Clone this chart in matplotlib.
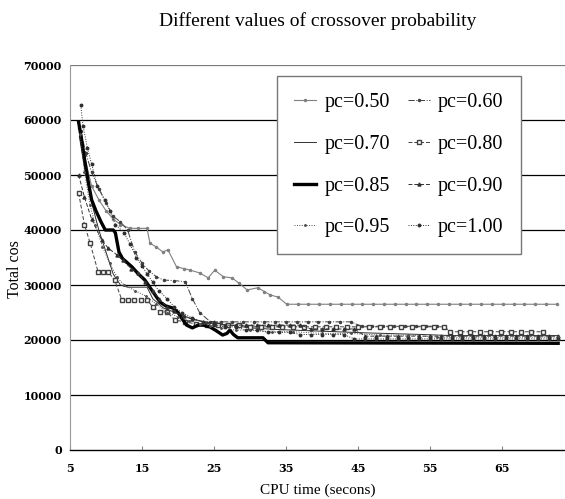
import matplotlib
matplotlib.use("Agg")
import matplotlib.pyplot as plt

# -----------------------------
# data (cpu time, total cost)
# -----------------------------
pc050 = [(6.3, 58500), (7.0, 53500), (8.0, 48000), (9.0, 45500), (10.0, 43500), (11.0, 42000),
         (12.0, 41000), (13.3, 40300), (14.5, 40300), (15.7, 40300), (16.1, 37600), (17.0, 36900),
         (17.9, 36000), (18.6, 36400), (19.8, 33300), (20.8, 33000), (21.7, 32700), (23.0, 32200),
         (24.2, 31300), (25.1, 32700), (26.3, 31500), (27.5, 31300), (28.5, 30300), (29.6, 29100),
         (31.1, 29500), (32.0, 28800), (32.8, 28200), (33.9, 27800), (35.1, 26500), (36.6, 26500),
         (38.1, 26500), (39.6, 26500), (41.1, 26500), (42.6, 26500), (44.1, 26500), (45.6, 26500),
         (47.1, 26500), (48.6, 26500), (50.1, 26500), (51.6, 26500), (53.1, 26500), (54.6, 26500),
         (56.1, 26500), (57.6, 26500), (59.1, 26500), (60.6, 26500), (62.1, 26500), (63.6, 26500),
         (65.1, 26500), (66.6, 26500), (68.1, 26500), (69.6, 26500), (71.1, 26500), (72.6, 26500)]

pc060 = [(6.5, 58000), (7.2, 54000), (8.0, 50500), (9.0, 47500), (10.0, 45000), (11.0, 42500),
         (12.0, 41500), (13.0, 40000), (14.0, 36000), (15.0, 34000), (16.0, 32500), (17.0, 31500),
         (18.0, 30900), (19.5, 30800), (21.0, 30600), (22.0, 27500), (23.0, 25000), (24.5, 23300),
         (26.0, 23300), (27.5, 23300), (29.0, 23300), (30.5, 23300), (32.0, 23300), (33.5, 23300),
         (35.0, 23300), (36.5, 23300), (38.0, 23300), (39.5, 23300), (41.0, 23300), (42.5, 23300),
         (44.0, 23300), (45.5, 22500), (47.0, 22500), (48.5, 22500), (50.0, 22500), (51.5, 22500),
         (53.0, 22500), (54.5, 22500), (56.0, 22500)]

pc070 = [(6.3, 57000), (7.0, 51500), (8.0, 45000), (9.0, 40000), (10.0, 36000), (11.0, 32000),
         (12.0, 30000), (13.0, 29600), (15.7, 29600), (16.5, 27500), (18.0, 25800), (20.0, 24800),
         (22.0, 23800), (24.0, 23200), (26.0, 22800), (28.0, 22600), (30.0, 22200), (34.0, 21900),
         (40.0, 21600), (46.0, 21300), (54.0, 21000), (58.0, 20800), (72.8, 20800)]

pc080 = [(6.2, 46700), (7.0, 41000), (7.8, 37600), (8.9, 32400), (9.6, 32400), (10.3, 32400),
         (11.2, 30900), (12.2, 27300), (13.0, 27300), (13.9, 27300), (14.8, 27300), (15.7, 27300),
         (16.5, 26000), (17.5, 25100), (18.5, 25100), (19.6, 23600), (21.0, 23300), (22.5, 22900),
         (24.0, 22700), (25.5, 22700), (27.0, 22700), (28.5, 22700), (30.0, 22400), (31.5, 22400),
         (33.0, 22400), (34.5, 22400), (36.0, 22400), (37.5, 22400), (39.0, 22400), (40.5, 22400),
         (42.0, 22400), (43.5, 22400), (45.0, 22400), (46.5, 22400), (48.0, 22400), (49.5, 22400),
         (51.0, 22400), (52.5, 22400), (54.0, 22400), (55.5, 22400), (57.0, 22400), (57.8, 21500),
         (59.2, 21500), (60.6, 21500), (62.0, 21500), (63.4, 21500), (64.8, 21500), (66.2, 21500),
         (67.6, 21500), (69.0, 21500), (70.7, 21500)]

pc085 = [(6.2, 59600), (6.6, 56500), (7.0, 53000), (7.5, 49000), (8.0, 45500), (8.6, 43500),
         (9.3, 41500), (9.9, 40000), (11.0, 40000), (11.3, 39500), (11.8, 36000), (12.3, 34800),
         (13.0, 34000), (13.6, 33300), (14.5, 32000), (15.4, 30900), (16.5, 28800), (17.5, 26900),
         (18.3, 26200), (19.3, 25800), (20.0, 25000), (20.5, 24000), (21.2, 22700), (22.0, 22200),
         (22.8, 22700), (23.5, 22700), (24.4, 22400), (25.3, 21700), (26.2, 20900), (26.8, 21200),
         (27.2, 21800), (27.7, 21000), (28.3, 20400), (31.8, 20400), (32.5, 19500), (72.8, 19400)]

pc090 = [(6.2, 50000), (7.0, 46000), (8.0, 42000), (9.4, 38200), (10.3, 36700), (11.5, 35500),
         (12.3, 34500), (13.5, 33000), (14.5, 32200), (15.4, 30500), (16.5, 29000), (17.3, 27500),
         (18.5, 26000), (19.5, 25200), (20.8, 24300), (22.0, 23800), (23.5, 23300), (25.0, 23300),
         (26.5, 22700), (28.0, 22700), (29.5, 22700), (31.0, 22700), (32.5, 22700), (34.0, 22700),
         (35.5, 22700), (37.0, 22700), (38.5, 22000), (40.0, 22000), (41.5, 22000), (43.0, 22000),
         (44.5, 22000), (46.0, 20700), (47.5, 20700), (49.0, 20700), (50.5, 20700), (52.0, 20700),
         (53.5, 20700), (55.0, 20700), (56.5, 20700), (58.0, 20700), (59.5, 20700), (61.0, 20700),
         (62.5, 20700), (64.0, 20700), (65.5, 20700), (67.0, 20700), (68.5, 20700), (70.0, 20700),
         (71.5, 20700), (72.8, 20700)]

pc095 = [(6.4, 57500), (7.0, 50500), (7.8, 44500), (8.5, 41000), (9.5, 37000), (10.5, 34000),
         (11.5, 31500), (12.5, 30000), (14.0, 29000), (15.5, 28000), (17.0, 26500), (18.5, 25000),
         (20.0, 24200), (21.5, 23500), (23.0, 23000), (24.5, 22600), (26.0, 22200), (28.0, 21800),
         (30.0, 21800), (33.0, 21500), (36.0, 21500), (40.0, 21200), (44.0, 21200), (48.0, 20900),
         (52.0, 20900), (56.0, 20500), (72.8, 20500)]

pc100 = [(6.5, 62700), (6.8, 59000), (7.4, 55000), (8.0, 52000), (8.8, 48000), (9.8, 45500),
         (10.5, 43500), (11.3, 41000), (12.5, 39500), (13.3, 37500), (14.2, 35000), (15.0, 33500),
         (15.7, 32000), (16.5, 30500), (17.3, 29000), (18.5, 27500), (19.5, 26000), (20.5, 25000),
         (22.0, 24000), (23.5, 23300), (25.0, 22800), (26.5, 22400), (28.0, 22400), (29.5, 21800),
         (31.0, 21800), (32.5, 21400), (34.0, 21400), (35.5, 21400), (37.0, 21000), (38.5, 21000),
         (40.0, 21000), (41.5, 21000), (43.0, 21000), (44.5, 20200), (46.0, 20200), (47.5, 20200),
         (49.0, 20200), (50.5, 20200), (52.0, 20200), (53.5, 20200), (55.0, 20200), (56.5, 20200),
         (58.0, 20200), (59.5, 20200), (61.0, 20200), (62.5, 20200), (64.0, 20200), (65.5, 20200),
         (67.0, 20200), (68.5, 20200), (70.0, 20200), (71.5, 20200), (72.8, 20200)]

labels = ["pc=0.50", "pc=0.60", "pc=0.70", "pc=0.80",
          "pc=0.85", "pc=0.90", "pc=0.95", "pc=1.00"]
series = [pc050, pc060, pc070, pc080, pc085, pc090, pc095, pc100]

y_ticks = [0, 10000, 20000, 30000, 40000, 50000, 60000, 70000]
x_ticks = [5, 15, 25, 35, 45, 55, 65]

SERIF = "Liberation Serif"

# line style per series
styles = [
    dict(color="#808080", lw=0.8, ls="-", marker="o", ms=1.5),
    dict(color="#404040", lw=0.7, ls="-.", marker="o", ms=1.5),
    dict(color="#303030", lw=0.7, ls="-", marker=None),
    dict(color="#404040", lw=0.7, ls=(0, (4, 2)), marker="s", ms=2.2, mfc="white"),
    dict(color="black", lw=2.4, ls="-", marker=None),
    dict(color="#303030", lw=0.7, ls=(0, (4, 2)), marker="^", ms=2.2),
    dict(color="#505050", lw=0.7, ls=(0, (1, 1.5)), marker="o", ms=1.1),
    dict(color="#303030", lw=0.7, ls=(0, (1, 1.5)), marker="o", ms=1.8),
]


def main():
    fig = plt.figure(figsize=(5.65, 4.99), dpi=100)
    ax = fig.add_axes([70 / 565, 49 / 499, 495 / 565, 385 / 499])

    handles = []
    for pts, lab, st in zip(series, labels, styles):
        xs = [p[0] for p in pts]
        ys = [p[1] for p in pts]
        h, = ax.plot(xs, ys, label=lab, zorder=3, **st)
        handles.append(h)

    ax.set_xlim(5, 73.75)
    ax.set_ylim(0, 70000)
    ax.set_xticks(x_ticks)
    ax.set_yticks(y_ticks)

    # horizontal grid lines
    for v in y_ticks[1:]:
        ax.axhline(v, color="#7a7a7a" if v == 70000 else "black", lw=0.9, zorder=1)

    for s in ["top", "right"]:
        ax.spines[s].set_visible(False)
    ax.spines["left"].set_color("#999999")
    ax.spines["bottom"].set_color("black")
    ax.spines["bottom"].set_linewidth(1.0)

    ax.tick_params(axis="y", length=0, pad=6)
    ax.tick_params(axis="x", direction="in", length=3, color="#888888", pad=9)
    for t in ax.get_xticklabels() + ax.get_yticklabels():
        t.set_fontfamily("DejaVu Serif")
        t.set_fontweight("bold")
        t.set_fontsize(8)

    ax.set_title("Different values of crossover probability", family=SERIF,
                 fontsize=14, pad=28)
    ax.set_xlabel("CPU time (secons)", family=SERIF, fontsize=11, labelpad=7)
    ax.set_ylabel("Total cos", family=SERIF, fontsize=11.5)
    ax.yaxis.set_label_coords(-0.095, 0.47)

    # legend: two columns, filled row by row
    order = [0, 2, 4, 6, 1, 3, 5, 7]
    leg = ax.legend([handles[i] for i in order], [labels[i] for i in order],
                    ncol=2, loc="upper left", bbox_to_anchor=(0.418, 0.971),
                    prop={"family": SERIF, "size": 14.5}, numpoints=1,
                    fancybox=False, framealpha=1, edgecolor="#777777",
                    handlelength=1.1, handletextpad=0.4, columnspacing=0.9,
                    labelspacing=1.12, borderpad=0.85, borderaxespad=0)
    leg.get_frame().set_linewidth(1.0)
    leg.set_zorder(5)

    fig.savefig("out.png", dpi=100)


if __name__ == "__main__":
    main()
